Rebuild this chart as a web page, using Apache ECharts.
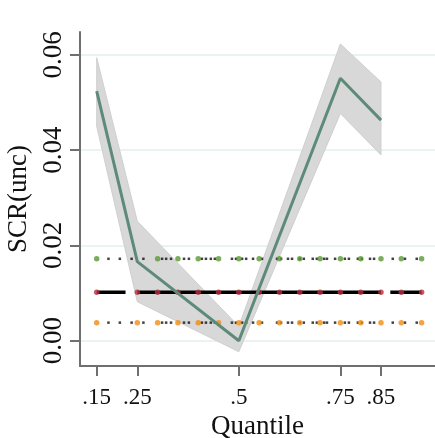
<!DOCTYPE html>
<html>
<head>
<meta charset="utf-8">
<script src="https://cdn.jsdelivr.net/npm/echarts@6/dist/echarts.min.js"></script>
<style>
html,body{margin:0;padding:0;background:#fff;}
#chart{width:435px;height:438px;}
</style>
</head>
<body>
<div id="chart"></div>
<script>
// ---- data ----
const quantiles = [0.15, 0.25, 0.5, 0.75, 0.85];
const estimate  = [0.0524, 0.0166, 0.0000, 0.0551, 0.0463];
const ciLower   = [0.0450, 0.0082, -0.0023, 0.0477, 0.0390];
const ciUpper   = [0.0594, 0.0251, 0.0030, 0.0623, 0.0543];

const xTickValues = [0.15, 0.25, 0.5, 0.75, 0.85];
const xTickLabels = ['.15', '.25', '.5', '.75', '.85'];
const yTickValues = [0.00, 0.02, 0.04, 0.06];

const rowUpper = 0.0172;
const rowMiddle = 0.0102;
const rowLower = 0.0038;

const redDotQ    = [0.15, 0.25, 0.30, 0.35, 0.40, 0.45, 0.50, 0.55, 0.60, 0.65, 0.70, 0.75, 0.80, 0.85, 0.90, 0.95];
const greenDotQ  = [0.15, 0.30, 0.35, 0.40, 0.45, 0.50, 0.55, 0.60, 0.65, 0.70, 0.75, 0.80, 0.85, 0.90, 0.95];
const orangeDotQ = [0.15, 0.25, 0.30, 0.35, 0.40, 0.45, 0.50, 0.55, 0.60, 0.65, 0.70, 0.75, 0.80, 0.85, 0.90, 0.95];
const blackDotQ  = [0.179, 0.207, 0.236, 0.265, 0.311, 0.321, 0.333, 0.365, 0.377, 0.409, 0.419, 0.431, 0.441,
                    0.483, 0.493, 0.508, 0.518, 0.535, 0.557, 0.594, 0.604, 0.621, 0.631, 0.650, 0.660,
                    0.682, 0.692, 0.710, 0.717, 0.737, 0.761, 0.771, 0.793, 0.803, 0.823, 0.833, 0.879, 0.909, 0.938];
const blackSegments = [[0.15, 0.221], [0.25, 0.85], [0.873, 0.95]];

// ---- chart ----
const chart = echarts.init(document.getElementById('chart'), null, {renderer: 'canvas'});
const FONT = 'Liberation Serif';
const axisGray = '#6f6f6f';

const series = [];
series.push({
  type: 'custom',
  z: 1,
  silent: true,
  renderItem: function (params, api) {
    if (params.dataIndex !== 0) return;
    const up = quantiles.map((q, i) => api.coord([q, ciUpper[i]]));
    const lo = quantiles.map((q, i) => api.coord([q, ciLower[i]])).reverse();
    return {type: 'polygon', shape: {points: up.concat(lo)}, style: {fill: '#d8d8d8', stroke: '#cfcfcf', lineWidth: 1}};
  },
  data: quantiles.map((q, i) => [q, ciLower[i], ciUpper[i]]),
  encode: {x: 0, y: [1, 2]}
});
blackSegments.forEach(seg => {
  series.push({
    type: 'line', z: 3, symbol: 'none', silent: true,
    lineStyle: {color: '#000', width: 3.5},
    data: seg.map(x => [x, rowMiddle])
  });
});
series.push({type: 'scatter', z: 3, symbol: 'rect', symbolSize: 2.5, itemStyle: {color: '#111'},
  data: blackDotQ.map(x => [x, rowUpper]).concat(blackDotQ.map(x => [x, rowLower]))});
series.push({type: 'scatter', z: 4, symbol: 'circle', symbolSize: 5.5, itemStyle: {color: '#b4303f'},
  data: redDotQ.map(x => [x, rowMiddle])});
series.push({type: 'scatter', z: 4, symbol: 'circle', symbolSize: 5.5, itemStyle: {color: '#5a9a33'},
  data: greenDotQ.map(x => [x, rowUpper])});
series.push({type: 'scatter', z: 4, symbol: 'circle', symbolSize: 5.5, itemStyle: {color: '#f08c12'},
  data: orangeDotQ.map(x => [x, rowLower])});
series.push({
  type: 'line', z: 5, symbol: 'none', silent: true,
  lineStyle: {color: '#5e8b79', width: 3},
  data: quantiles.map((q, i) => [q, estimate[i]])
});

chart.setOption({
  animation: false,
  backgroundColor: '#fff',
  grid: {left: 80, right: 0, top: 32, bottom: 72, containLabel: false, outerBoundsMode: 'none'},
  xAxis: {
    type: 'value', min: 0.1089, max: 0.983,
    name: 'Quantile', nameLocation: 'middle', nameGap: 39,
    nameTextStyle: {fontFamily: FONT, fontSize: 27, color: '#111'},
    axisLine: {show: true, onZero: false, lineStyle: {color: axisGray, width: 2}},
    axisTick: {show: true, customValues: xTickValues, length: 10, lineStyle: {color: axisGray, width: 2}},
    axisLabel: {customValues: xTickValues, margin: 20, fontFamily: FONT, fontSize: 23, color: '#111',
      formatter: v => xTickLabels[xTickValues.findIndex(t => Math.abs(t - v) < 1e-9)]},
    splitLine: {show: false}
  },
  yAxis: {
    type: 'value', min: -0.0053, max: 0.0648,
    name: 'SCR(unc)', nameLocation: 'middle', nameGap: 39, nameRotate: 90,
    nameTextStyle: {fontFamily: FONT, fontSize: 27, color: '#111'},
    axisLine: {show: true, onZero: false, lineStyle: {color: axisGray, width: 2}},
    axisTick: {show: true, customValues: yTickValues, length: 10, lineStyle: {color: axisGray, width: 2}},
    axisLabel: {customValues: yTickValues, rotate: 90, margin: 13, fontFamily: FONT, fontSize: 27, color: '#111',
      formatter: v => v.toFixed(2)},
    splitLine: {show: true, lineStyle: {color: '#e3eff1', width: 1.5}}
  },
  series: series
});
</script>
</body>
</html>
